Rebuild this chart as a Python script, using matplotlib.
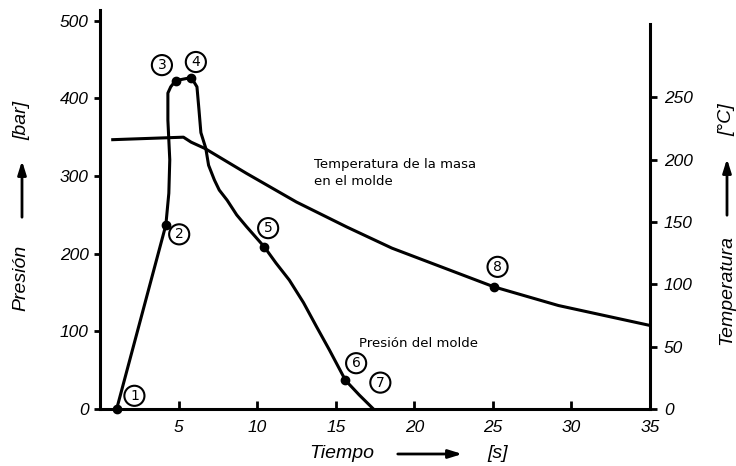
import matplotlib.pyplot as plt

# Presion del molde [bar] vs tiempo [s]
press_t = [1.06, 4.19, 4.38, 4.44, 4.32, 4.32, 4.5, 4.81, 5.81, 6.17, 6.30, 6.42,
           6.73, 6.91, 7.28, 7.59, 8.09, 8.70, 9.32, 10.45, 11.2, 12.05, 12.95,
           13.78, 14.6, 15.62, 16.5, 17.4]
press_bar = [0, 237, 278, 321, 372, 407, 415, 423, 427, 415, 385, 356,
             336, 314, 295, 282, 269, 250, 235, 209, 188, 166, 137,
             106, 76, 37, 18, 0]

# Temperatura de la masa [C] vs tiempo [s]
temp_t = [0.81, 5.31, 5.8, 6.67, 9.32, 12.5, 15.7, 18.58, 25.06, 29.17, 35]
temp_c = [216, 218, 214, 209, 189, 166, 146, 129, 98, 83, 67]

# puntos marcados
dot_t = [1.06, 4.19, 4.81, 5.81, 10.45, 15.62]
dot_bar = [0, 237, 423, 427, 209, 37]
dot8_t, dot8_c = 25.06, 98

# numeros en circulo (posicion de la etiqueta)
lab_num = ["1", "2", "3", "4", "5", "6", "7"]
lab_t = [2.19, 5.04, 3.94, 6.1, 10.7, 16.3, 17.84]
lab_bar = [17, 225, 443, 447, 233, 59, 34]
lab8_t, lab8_c = 25.3, 114

W, H = 736, 466
tick_font = dict(family="Liberation Sans", style="italic", size=12.5)
label_font = dict(family="Liberation Sans", style="italic", size=14)


def fp(x, y):
    # pixel (arriba-izquierda) -> fraccion de figura
    return x / W, 1 - y / H


fig = plt.figure(figsize=(W / 100, H / 100), dpi=100)
ax = fig.add_axes([100 / W, 1 - 409 / H, 550 / W, 399 / H])
ax2 = ax.twinx()

ax.plot(press_t, press_bar, color="black", lw=2.2, solid_joinstyle="round")
ax.plot(dot_t, dot_bar, "o", color="black", ms=6, clip_on=False)
ax2.plot(temp_t, temp_c, color="black", lw=2.2, solid_joinstyle="round")
ax2.plot([dot8_t], [dot8_c], "o", color="black", ms=6)

circ = dict(boxstyle="circle,pad=0.22", fc="white", ec="black", lw=1.5)
for n, t, p in zip(lab_num, lab_t, lab_bar):
    ax.text(t, p, n, ha="center", va="center", fontsize=10, family="DejaVu Sans",
            bbox=circ, clip_on=False)
ax2.text(lab8_t, lab8_c, "8", ha="center", va="center", fontsize=10,
         family="DejaVu Sans", bbox=circ)

ax.text(13.6, 323, "Temperatura de la masa\nen el molde", ha="left", va="top",
        fontsize=9.5, family="DejaVu Sans", linespacing=1.4)
ax.text(16.5, 85, "Presión del molde", ha="left", va="center",
        fontsize=9.5, family="DejaVu Sans")

ax.set_xlim(0, 35)
ax.set_ylim(0, 514)
ax2.set_ylim(0, 320)

ax.spines["top"].set_visible(False)
ax.spines["right"].set_visible(False)
for s in ["top", "left", "bottom"]:
    ax2.spines[s].set_visible(False)
ax2.spines["right"].set_bounds(0, 309)
for s in ax.spines.values():
    s.set_linewidth(2.2)
ax2.spines["right"].set_linewidth(2.2)

ax.set_xticks(range(5, 40, 5))
ax.set_xticklabels([str(v) for v in range(5, 40, 5)], fontdict=tick_font)
ax.set_yticks(range(0, 600, 100))
ax.set_yticklabels([str(v) for v in range(0, 600, 100)], fontdict=tick_font)
ax2.set_yticks(range(0, 300, 50))
ax2.set_yticklabels([str(v) for v in range(0, 300, 50)], fontdict=tick_font)

ax.tick_params(axis="x", direction="in", length=6, width=2, pad=8)
ax.tick_params(axis="y", direction="out", length=4, width=2, pad=4)
ax2.tick_params(axis="y", direction="out", length=5, width=2, pad=5)

arrow = dict(arrowstyle="-|>,head_length=0.8,head_width=0.25", color="black", lw=2)

# eje izquierdo
fig.text(*fp(21, 278), "Presión", rotation=90, ha="center", va="center", **label_font)
ax.annotate("", xy=fp(22, 158), xytext=fp(22, 220), xycoords="figure fraction",
            textcoords="figure fraction", arrowprops=arrow)
fig.text(*fp(22, 120), "[bar]", rotation=90, ha="center", va="center", **label_font)

# eje derecho
fig.text(*fp(727, 290), "Temperatura", rotation=90, ha="center", va="center", **label_font)
ax.annotate("", xy=fp(727, 156), xytext=fp(727, 218), xycoords="figure fraction",
            textcoords="figure fraction", arrowprops=arrow)
fig.text(*fp(727, 120), "[°C]", rotation=90, ha="center", va="center", **label_font)

# eje inferior
fig.text(*fp(342, 454), "Tiempo", ha="center", va="center", **label_font)
ax.annotate("", xy=fp(465, 454), xytext=fp(395, 454), xycoords="figure fraction",
            textcoords="figure fraction", arrowprops=arrow)
fig.text(*fp(498, 454), "[s]", ha="center", va="center", **label_font)

fig.savefig("out.png", dpi=100)
